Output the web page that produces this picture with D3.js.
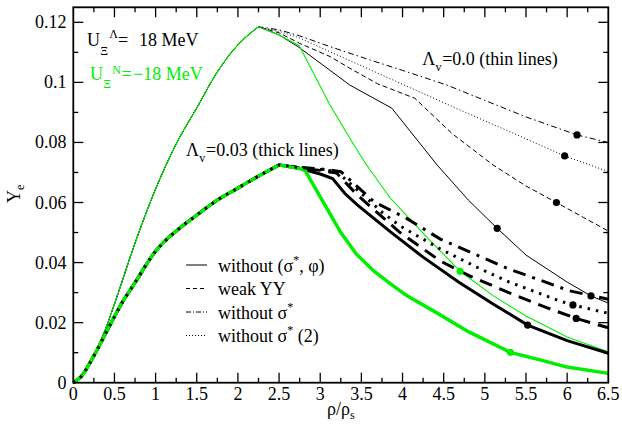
<!DOCTYPE html>
<html><head><meta charset="utf-8">
<script src="https://cdn.jsdelivr.net/npm/d3@7"></script>
<style>
body{margin:0;background:#fff}
svg{display:block}
</style>
</head><body>
<svg id="chart" width="622" height="426" font-family="'Liberation Serif', 'DejaVu Serif', Times, serif"></svg>
<script>
// ---------- axes / ticks ----------
const xTicks = [0,0.5,1,1.5,2,2.5,3,3.5,4,4.5,5,5.5,6,6.5];
const xTickLabels = ["0","0.5","1","1.5","2","2.5","3","3.5","4","4.5","5","5.5","6","6.5"];
const xMinorTicks = [0.25,0.75,1.25,1.75,2.25,2.75,3.25,3.75,4.25,4.75,5.25,5.75,6.25];
const yTicks = [0,0.02,0.04,0.06,0.08,0.1,0.12];
const yTickLabels = ["0","0.02","0.04","0.06","0.08","0.1","0.12"];
const yMinorTicks = [0.01,0.03,0.05,0.07,0.09,0.11];

// ---------- data : Lambda_v = 0.0 (thin lines) ----------
const thinRiseX = [0,0.1,0.2,0.3,0.4,0.5,0.75,1.0,1.25,1.5,1.75,2.0,2.25];
const thinRiseY = [0,0.0025,0.0065,0.012,0.0185,0.0262,0.0465,0.0645,0.0795,0.0915,0.1035,0.1125,0.1185];

const thinSolidX = [2.5,2.73,3.12,3.36,3.87,4.1,4.42,4.8,5.15,5.5,6.0,6.29,6.5];
const thinSolidY = [0.1158,0.1119,0.104,0.0991,0.0914,0.0835,0.0725,0.0608,0.0514,0.0425,0.0335,0.0289,0.0265];
const thinDashedX = [2.5,2.75,3.12,3.36,3.7,4.15,4.6,5.1,5.5,5.87,6.2,6.5];
const thinDashedY = [0.1165,0.113,0.1086,0.1047,0.0995,0.0947,0.083,0.0725,0.0655,0.06,0.055,0.0505];
const thinDotX = [2.5,2.75,3.12,3.6,4.11,4.6,5.0,5.5,5.97,6.5];
const thinDotY = [0.117,0.1148,0.1102,0.1043,0.098,0.092,0.0872,0.0812,0.0755,0.0703];
const thinDashDotX = [2.5,2.75,3.12,3.6,4.0,4.54,5.0,5.5,6.12,6.5];
const thinDashDotY = [0.1175,0.1155,0.1119,0.1075,0.104,0.0991,0.094,0.0885,0.0825,0.08];
const thinGreenX = [2.5,2.745,3.12,3.36,3.55,3.85,4.09,4.3,4.7,5.1,5.5,6.0,6.5];
const thinGreenY = [0.1158,0.1122,0.0924,0.0814,0.073,0.0615,0.0545,0.0483,0.0371,0.029,0.0222,0.0152,0.0103];

// ---------- data : Lambda_v = 0.03 (thick lines) ----------
const thickRiseX = [0,0.1,0.2,0.3,0.4,0.5,0.6,0.7,0.8,0.9,1.0,1.1,1.25,1.5,1.75,2.0,2.25,2.5];
const thickRiseY = [0,0.0022,0.0065,0.0115,0.0168,0.022,0.027,0.0312,0.0355,0.0399,0.0438,0.0468,0.0505,0.0558,0.0608,0.0648,0.0688,0.0725];

const thickSolidX = [2.63,2.77,3.0,3.15,3.3,3.45,3.85,4.25,4.68,5.1,5.52,6.0,6.5];
const thickSolidY = [0.0719,0.0712,0.0695,0.068,0.063,0.0592,0.0503,0.0418,0.0335,0.0262,0.0192,0.014,0.0098];
const thickDashedX = [2.77,3.0,3.2,3.45,3.97,4.46,4.82,5.29,5.75,6.11,6.5];
const thickDashedY = [0.0714,0.0707,0.0698,0.0625,0.05,0.0405,0.0355,0.03,0.025,0.0214,0.0183];
const thickDotX = [2.77,3.0,3.2,3.5,3.75,3.97,4.46,4.9,5.27,5.91,6.07,6.5];
const thickDotY = [0.0716,0.071,0.0703,0.063,0.0568,0.0522,0.0445,0.0385,0.0338,0.0272,0.0259,0.0231];
const thickDashDotX = [2.77,3.0,3.25,3.65,4.05,4.46,4.62,5.27,6.03,6.5];
const thickDashDotY = [0.0717,0.0712,0.0703,0.0603,0.0547,0.0478,0.0459,0.0381,0.0306,0.0278];
const thickGreenX = [2.77,2.82,3.04,3.25,3.44,3.65,3.85,4.05,4.37,4.8,5.31,5.67,6.0,6.5];
const thickGreenY = [0.0712,0.0705,0.06,0.05,0.0428,0.0372,0.033,0.029,0.024,0.017,0.0101,0.0076,0.0052,0.0031];

// ---------- marker dots ----------
const blackDotsX = [5.15,6.29,5.87,5.97,6.12,5.52,6.11,6.07];
const blackDotsY = [0.0514,0.0289,0.06,0.0755,0.0825,0.0192,0.0214,0.0259];
const greenDotsX = [4.7,5.31];
const greenDotsY = [0.0371,0.0101];

// ---------- legend ----------
const legendLabels = ["without (σ*, φ)","weak YY","without σ*","without σ* (2)"];

// ---------- layout ----------
const svg = d3.select("#chart");
const L = 73.3, R = 608.3, T = 7.3, B = 382.7;
const x = d3.scaleLinear().domain([0,6.5]).range([L,R]);
const y = d3.scaleLinear().domain([0,0.125]).range([B,T]);
const GREEN = "#00ee00";

const zip = (xs, ys) => xs.map((v,i)=>[v, ys[i]]);
const lineLin = d3.line().x(d=>x(d[0])).y(d=>y(d[1]));
const lineSmooth = d3.line().curve(d3.curveMonotoneX).x(d=>x(d[0])).y(d=>y(d[1]));

function drawSeries(rise, rest, color, width, dash){
  const peak = rise[rise.length-1];
  const d = lineSmooth(rise) + lineLin([peak].concat(rest)).replace(/^M[^L]*/, "");
  svg.append("path").attr("d", d).attr("fill","none")
    .attr("stroke", color).attr("stroke-width", width)
    .attr("stroke-dasharray", dash || null)
    .attr("stroke-linejoin","miter");
}

// thin lines
const thinRise = zip(thinRiseX, thinRiseY);
drawSeries(thinRise, zip(thinDashDotX, thinDashDotY), "#000", 1, "6,3,1.5,3");
drawSeries(thinRise, zip(thinDotX, thinDotY), "#000", 1, "1,2.2");
drawSeries(thinRise, zip(thinDashedX, thinDashedY), "#000", 1, "5,3");
drawSeries(thinRise, zip(thinSolidX, thinSolidY), "#000", 1, null);
drawSeries(thinRise, zip(thinGreenX, thinGreenY), GREEN, 1.1, null);

// thick lines
const thickRise = zip(thickRiseX, thickRiseY);
drawSeries(thickRise, zip(thickSolidX, thickSolidY), "#000", 3, null);
drawSeries(thickRise, zip(thickDashedX, thickDashedY), "#000", 3, "13,8");
drawSeries(thickRise, zip(thickDashDotX, thickDashDotY), "#000", 3, "13,7,3,7");
drawSeries(thickRise, zip(thickGreenX, thickGreenY), GREEN, 3.5, null);
drawSeries(thickRise, zip(thickDotX, thickDotY), "#000", 3, "2.5,6");

// dots
svg.selectAll("circle.bd").data(zip(blackDotsX, blackDotsY)).enter().append("circle")
  .attr("cx", d=>x(d[0])).attr("cy", d=>y(d[1])).attr("r", 3.6).attr("fill","#000");
svg.selectAll("circle.gd").data(zip(greenDotsX, greenDotsY)).enter().append("circle")
  .attr("cx", d=>x(d[0])).attr("cy", d=>y(d[1])).attr("r", 3.6).attr("fill",GREEN);

// frame
svg.append("rect").attr("x",L).attr("y",T).attr("width",R-L).attr("height",B-T)
  .attr("fill","none").attr("stroke","#000").attr("stroke-width",1.8);

// ticks (all sides, inward)
const MAJ = 10, MIN = 5;
const tk = svg.append("g").attr("stroke","#000").attr("stroke-width",1.3);
xTicks.forEach(v=>{ if(v>0 && v<6.5){
  tk.append("line").attr("x1",x(v)).attr("x2",x(v)).attr("y1",B).attr("y2",B-MAJ);
  tk.append("line").attr("x1",x(v)).attr("x2",x(v)).attr("y1",T).attr("y2",T+MAJ);
}});
xMinorTicks.forEach(v=>{
  tk.append("line").attr("x1",x(v)).attr("x2",x(v)).attr("y1",B).attr("y2",B-MIN);
  tk.append("line").attr("x1",x(v)).attr("x2",x(v)).attr("y1",T).attr("y2",T+MIN);
});
yTicks.forEach(v=>{ if(v>0){
  tk.append("line").attr("x1",L).attr("x2",L+MAJ).attr("y1",y(v)).attr("y2",y(v));
  tk.append("line").attr("x1",R).attr("x2",R-MAJ).attr("y1",y(v)).attr("y2",y(v));
}});
yMinorTicks.forEach(v=>{
  tk.append("line").attr("x1",L).attr("x2",L+MIN).attr("y1",y(v)).attr("y2",y(v));
  tk.append("line").attr("x1",R).attr("x2",R-MIN).attr("y1",y(v)).attr("y2",y(v));
});

// tick labels
xTicks.forEach((v,i)=>{
  svg.append("text").attr("x",x(v)).attr("y",400).attr("text-anchor","middle")
    .attr("font-size",18).text(xTickLabels[i]);
});
yTicks.forEach((v,i)=>{
  svg.append("text").attr("x",66.5).attr("y",y(v)+6).attr("text-anchor","end")
    .attr("font-size",18).text(yTickLabels[i]);
});

// axis titles
const xt = svg.append("text").attr("x",327).attr("y",415).attr("font-size",18);
xt.append("tspan").text("ρ/ρ");
xt.append("tspan").attr("font-size",12).attr("dy",4).text("s");

const yt = svg.append("text").attr("transform","translate(20,203) rotate(-90)").attr("font-size",18);
yt.append("tspan").text("Y");
yt.append("tspan").attr("font-size",12).attr("dy",4).text("e");

// annotations
function annot(cfg){
  const t = svg.append("text").attr("font-size",18).attr("fill",cfg.color||"#000");
  cfg.parts.forEach(p=>{
    t.append("tspan").attr("x",p.x).attr("y",p.y).attr("font-size",p.s||18).text(p.t);
  });
}
annot({parts:[
  {t:"U",x:87,y:45.7},{t:"Ξ",x:100.3,y:55,s:12},{t:"Λ",x:109.2,y:38.3,s:12},
  {t:"=",x:118,y:45.7},{t:"18 MeV",x:139,y:45.7}]});
annot({color:GREEN,parts:[
  {t:"U",x:90,y:79.7},{t:"Ξ",x:103.2,y:87.5,s:12},{t:"N",x:112.2,y:73.5,s:12},
  {t:"=",x:121.5,y:79.7},{t:"−18 MeV",x:133,y:79.7}]});
annot({parts:[
  {t:"Λ",x:186,y:156},{t:"v",x:199.3,y:162,s:12},{t:"=0.03 (thick lines)",x:206,y:156}]});
annot({parts:[
  {t:"Λ",x:422.2,y:65},{t:"v",x:435.5,y:71,s:12},{t:"=0.0 (thin lines)",x:442.2,y:65}]});

// legend
const legStyles = [null,"4,3","5,2,1,2","1,2"];
const legY = [265,288.5,312,335.5];
legendLabels.forEach((lab,i)=>{
  svg.append("line").attr("x1",186).attr("x2",207).attr("y1",legY[i]).attr("y2",legY[i])
    .attr("stroke","#000").attr("stroke-width",1).attr("stroke-dasharray",legStyles[i]);
  const t = svg.append("text").attr("x",218).attr("y",legY[i]+6.5).attr("font-size",18);
  const parts = lab.split("*");
  parts.forEach((p,j)=>{
    if(j>0){ t.append("tspan").attr("font-size",12).attr("dy",-8).text("*");
             t.append("tspan").attr("dy",8).text(p); }
    else t.append("tspan").text(p);
  });
});
</script>
</body></html>
